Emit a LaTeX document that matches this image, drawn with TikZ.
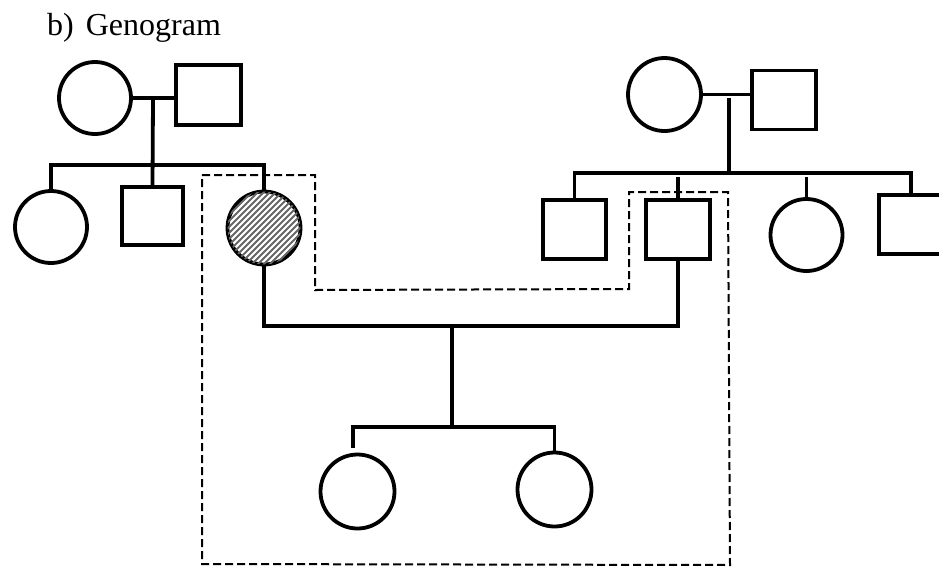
\documentclass[tikz,border=0pt]{standalone}
\usepackage{fontspec}
\setmainfont{Liberation Serif}
\begin{document}
\begin{tikzpicture}[x=1pt,y=-1pt,
  fem/.style={circle,draw,line width=3.8pt,minimum size=72pt,inner sep=0pt},
  mal/.style={rectangle,draw,line width=3.8pt,minimum width=64pt,minimum height=59pt,inner sep=0pt},
  link/.style={line width=3.8pt},
  frame/.style={line width=2pt,dash pattern=on 8pt off 4pt},
  hatch/.style={line width=1.8pt,black!60}]
\useasboundingbox (0,0) rectangle (939,568);
% title
\node[anchor=base west,inner sep=0pt,font=\fontsize{32}{38}\selectfont] (title) at (47,35) {b)\hspace{12pt}Genogram};
% left grandparents
\node[fem] (gm1) at (95,98) {};
\node[mal,minimum width=65pt,minimum height=60pt] (gf1) at (208.5,95) {};
\node[fem] (c1) at (51,227) {};
\node[mal,minimum width=61pt,minimum height=58pt] (c2) at (152.5,216) {};
\node[fem,minimum size=73pt] (mother) at (264,228) {};
% right grandparents
\node[fem,minimum size=73pt] (gm2) at (664.5,94.5) {};
\node[mal] (gf2) at (784,100) {};
\node[mal,minimum width=63pt] (s1) at (574.5,229.5) {};
\node[mal] (father) at (678,229.5) {};
\node[fem] (s3) at (806.5,235) {};
\node[mal] (s4) at (911,224.5) {};
% children
\node[fem,minimum size=74pt] (k1) at (357.5,491.5) {};
\node[fem,minimum size=74pt] (k2) at (554.5,489.5) {};
% hatching of mother
\begin{scope}
  \clip (mother.center) circle (36.5);
  \foreach \k in {-96,-90,...,96}
    \draw[hatch,shift={(mother.center)}] (\k-45,45) -- ++(90,-90);
\end{scope}
% helper coordinates
\coordinate (m1) at (153,100);
\coordinate (sib1) at (0,165);
\coordinate (m2) at (729,98);
\coordinate (sib2) at (0,173);
\coordinate (sib2b) at (0,177);
\coordinate (cpl) at (0,326);
\coordinate (cm) at (452,326);
\coordinate (sib3) at (0,427);
\coordinate (k1top) at (353,448);
% left family
\draw[link] (gm1.east) -- (gm1.east -| gf1.west);
\draw[link] (m1) -- (c2.north);
\draw[link] (c1.north) -- (c1.north |- sib1) -- (mother.north |- sib1) -- (mother.north);
% right family
\draw[link] (gm2.east) -- (gm2.east -| gf2.west);
\draw[link] (m2) -- (m2 |- sib2);
\draw[link] (s1.north) -- (s1.north |- sib2) -- (s4.north |- sib2) -- (s4.north);
\draw[link] (father.north |- sib2b) -- (father.north);
\draw[link] (s3.north |- sib2b) -- (s3.north);
% couple
\draw[link] (mother.south) -- (mother.south |- cpl) -- (father.south |- cpl) -- (father.south);
\draw[link] (cm) -- (cm |- sib3);
\draw[link] (k1top) -- (k1top |- sib3) -- (k2.north |- sib3) -- (k2.north);
% dashed frame
\draw[frame] (202,175) -- (315,175) -- (315,290) -- (629,289) -- (629,192) -- (728,192) -- (730,565) -- (202,564) -- cycle;
\end{tikzpicture}
\end{document}
